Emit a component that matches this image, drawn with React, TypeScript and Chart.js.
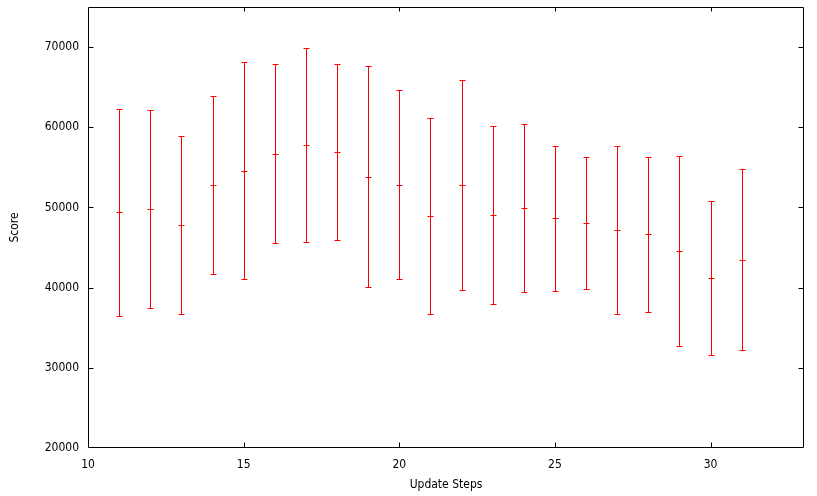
import React, { useEffect, useRef } from "react";
import { Chart, registerables } from "chart.js";

Chart.register(...registerables);

const steps = [11, 12, 13, 14, 15, 16, 17, 18, 19, 20, 21, 22, 23, 24, 25, 26, 27, 28, 29, 30, 31];
const means = [49450, 49850, 47850, 52850, 54600, 56700, 57850, 56950, 53850, 52850, 48950, 52850, 49100, 49950, 48700, 48100, 47200, 46700, 44600, 41200, 43450];
const highs = [62300, 62200, 58950, 63950, 68100, 67850, 69850, 67950, 67700, 64600, 61200, 65950, 60200, 60450, 57700, 56350, 57700, 56350, 56450, 50850, 54850];
const lows = [36450, 37450, 36700, 41700, 41100, 45600, 45700, 45950, 40100, 41100, 36700, 39700, 37950, 39450, 39600, 39850, 36700, 36950, 32700, 31600, 32200];

const xTicks = [10, 15, 20, 25, 30];
const yTicks = [20000, 30000, 40000, 50000, 60000, 70000];

const FONT = "'Liberation Sans Narrow', 'DejaVu Sans Condensed', 'DejaVu Sans', sans-serif";

const errorBarPlugin = {
  id: "errorBars",
  afterDatasetsDraw(chart: any) {
    const ctx = chart.ctx;
    const xs = chart.scales.x;
    const ys = chart.scales.y;
    ctx.save();
    ctx.strokeStyle = "#ff0000";
    ctx.lineWidth = 1;
    const cap = 3;
    for (let i = 0; i < steps.length; i++) {
      const px = Math.round(xs.getPixelForValue(steps[i])) + 0.5;
      const pHi = Math.round(ys.getPixelForValue(highs[i])) + 0.5;
      const pLo = Math.round(ys.getPixelForValue(lows[i])) + 0.5;
      const pM = Math.round(ys.getPixelForValue(means[i])) + 0.5;
      ctx.beginPath();
      ctx.moveTo(px, pHi);
      ctx.lineTo(px, pLo);
      ctx.moveTo(px - cap, pHi);
      ctx.lineTo(px + cap, pHi);
      ctx.moveTo(px - cap, pLo);
      ctx.lineTo(px + cap, pLo);
      ctx.moveTo(px - cap, pM);
      ctx.lineTo(px + cap, pM);
      ctx.stroke();
    }
    ctx.restore();
  },
};

const framePlugin = {
  id: "frame",
  afterDraw(chart: any) {
    const ctx = chart.ctx;
    const { left, right, top, bottom } = chart.chartArea;
    const xs = chart.scales.x;
    const ys = chart.scales.y;
    ctx.save();
    ctx.strokeStyle = "#000000";
    ctx.lineWidth = 1;
    const l = Math.round(left) + 0.5;
    const r = Math.round(right) - 0.5;
    const t = Math.round(top) + 0.5;
    const b = Math.round(bottom) - 0.5;
    ctx.beginPath();
    ctx.rect(l, t, r - l, b - t);
    for (const v of xTicks) {
      const px = Math.round(xs.getPixelForValue(v)) + 0.5;
      if (px <= l + 1 || px >= r - 1) continue;
      ctx.moveTo(px, b);
      ctx.lineTo(px, b - 5);
      ctx.moveTo(px, t);
      ctx.lineTo(px, t + 4);
    }
    for (const v of yTicks) {
      const py = Math.round(ys.getPixelForValue(v)) + 0.5;
      if (py <= t + 1 || py >= b - 1) continue;
      ctx.moveTo(l, py);
      ctx.lineTo(l + 5, py);
      ctx.moveTo(r, py);
      ctx.lineTo(r - 5, py);
    }
    ctx.stroke();
    ctx.restore();
  },
};

export default function App() {
  const ref = useRef<HTMLCanvasElement | null>(null);
  useEffect(() => {
    if (!ref.current) return;
    const chart = new Chart(ref.current, {
      type: "scatter",
      data: {
        datasets: [
          {
            label: "Score",
            data: steps.map((s, i) => ({ x: s, y: means[i] })),
            pointRadius: 0,
            borderColor: "#ff0000",
            backgroundColor: "#ff0000",
            showLine: false,
          },
        ],
      },
      options: {
        animation: false,
        responsive: false,
        maintainAspectRatio: false,
        layout: { padding: { left: 0, right: 13, top: 7, bottom: 0 } },
        plugins: { legend: { display: false }, tooltip: { enabled: false } },
        scales: {
          x: {
            type: "linear",
            min: 10,
            max: 33,
            afterBuildTicks: (s: any) => {
              s.ticks = xTicks.map((v) => ({ value: v }));
            },
            afterFit: (s: any) => {
              s.height = 48;
              s.paddingLeft = 0;
              s.paddingRight = 0;
            },
            grid: { display: false, drawTicks: false },
            border: { display: false },
            ticks: {
              color: "#000",
              padding: 10,
              maxRotation: 0,
              font: { family: FONT, size: 12 },
              callback: (v: any) => String(v),
            },
            title: {
              display: true,
              text: "Update Steps",
              color: "#000",
              font: { family: FONT, size: 12 },
              padding: { top: 4, bottom: 4 },
            },
          },
          y: {
            type: "linear",
            min: 20000,
            max: 75000,
            afterBuildTicks: (s: any) => {
              s.ticks = yTicks.map((v) => ({ value: v }));
            },
            afterFit: (s: any) => {
              s.width = 88;
              s.paddingTop = 0;
              s.paddingBottom = 0;
            },
            grid: { display: false, drawTicks: false },
            border: { display: false },
            ticks: {
              color: "#000",
              padding: 9,
              font: { family: FONT, size: 12 },
              callback: (v: any) => String(v),
            },
            title: {
              display: true,
              text: "Score",
              color: "#000",
              font: { family: FONT, size: 12 },
              padding: { top: 8, bottom: 4 },
            },
          },
        },
      },
      plugins: [errorBarPlugin, framePlugin],
    });
    return () => chart.destroy();
  }, []);
  return (
    <div style={{ position: "fixed", left: 0, top: 0, width: 817, height: 496, background: "#fff" }}>
      <canvas ref={ref} width={817} height={496} style={{ width: 817, height: 496 }} />
    </div>
  );
}
